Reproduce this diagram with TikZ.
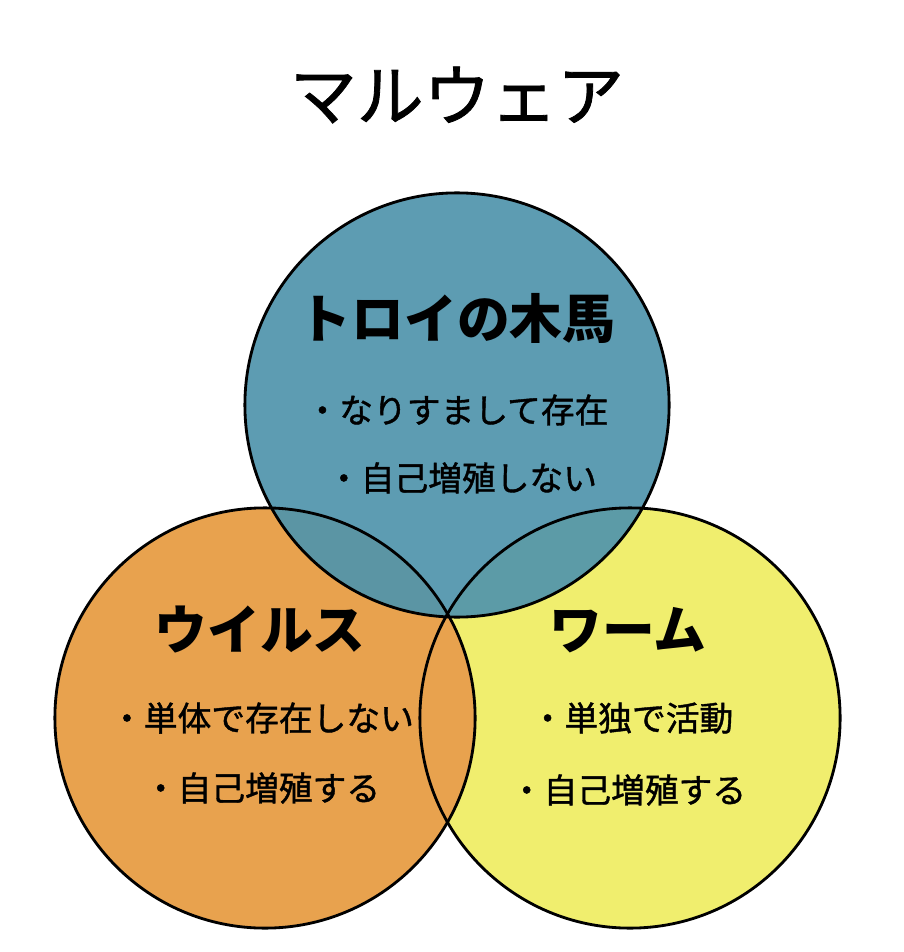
\documentclass[tikz,border=0pt]{standalone}
\usepackage{fontspec}
\newfontfamily\cjk{Noto Sans CJK JP}
\newfontfamily\cjkm[FakeBold=1.2]{Noto Sans CJK JP}
\definecolor{cblue}{HTML}{5094AC}
\definecolor{corange}{HTML}{E8A24E}
\definecolor{cyellow}{HTML}{F0EE6E}
\tikzset{head/.style={font=\cjk\bfseries\fontsize{15}{18}\selectfont},
body/.style={font=\cjkm\fontsize{9.6}{12}\selectfont},
ring/.style={draw=black,line width=0.8pt}}
\begin{document}
\begin{tikzpicture}[x=0.01cm,y=-0.01cm]
\useasboundingbox[fill=white] (0,0) rectangle (903,952);
\fill[cyellow] (630,718) circle (210);
\fill[corange] (265,718) circle (210);
\fill[cblue,opacity=0.92] (457,405) circle (212);
\node[ring,circle,minimum size=4.2cm,inner sep=0] (w) at (630,718) {};
\node[ring,circle,minimum size=4.2cm,inner sep=0] (v) at (265,718) {};
\node[ring,circle,minimum size=4.24cm,inner sep=0] (t) at (457,405) {};
\node[font=\cjkm\fontsize{19}{22}\selectfont] (title) at (457,95) {マルウェア};
\node[head] (th) at (457,318) {トロイの木馬};
\node[body] (t1) at (457,410) {・なりすまして存在};
\node[body] (t2) at (462,478) {・自己増殖しない};
\node[head] (vh) at (260,630) {ウイルス};
\node[body] (v1) at (262,718) {・単体で存在しない};
\node[body] (v2) at (262,788) {・自己増殖する};
\node[head] (wh) at (628,630) {ワーム};
\node[body] (w1) at (632,718) {・単独で活動};
\node[body] (w2) at (628,790) {・自己増殖する};
\end{tikzpicture}
\end{document}
